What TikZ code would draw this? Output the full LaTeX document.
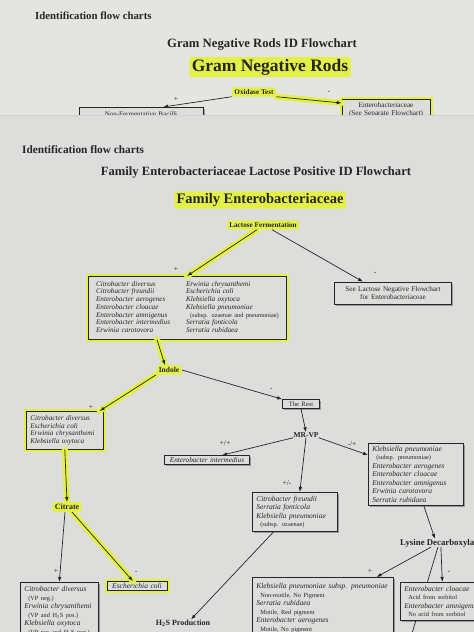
\documentclass[tikz,border=0pt]{standalone}
\usepackage{fontspec}
\setmainfont{Liberation Serif}
\usetikzlibrary{arrows.meta,shadows}

\definecolor{paperA}{RGB}{228,228,225}
\definecolor{paperB}{RGB}{221,221,219}
\definecolor{hlyellow}{RGB}{226,240,72}
\definecolor{ink}{RGB}{38,38,38}

\newcommand\fsz[2]{\fontsize{#1}{#2}\selectfont}
\newcommand\subnote[1]{{\upshape\fsz{6.3}{7.7}\hspace*{4pt}#1}}

\tikzset{
  txt/.style={inner sep=0pt, text=ink},
  head/.style={txt, font=\bfseries\fsz{#1}{#1}},
  hltxt/.style={fill=hlyellow, inner xsep=2.5pt, inner ysep=2pt, rounded corners=2pt},
  box/.style={draw=ink, fill=paperB, line width=0.6pt, text=ink, inner xsep=4pt, inner ysep=0pt,
    align=left, drop shadow={shadow xshift=1.5pt, shadow yshift=-1.5pt, fill=black, opacity=0.3}},
  hlbox/.style={box, preaction={draw=hlyellow, line width=5pt, rounded corners=2pt}},
  lstA/.style={font=\itshape\fsz{7.2}{7.7}},
  lstB/.style={font=\itshape\fsz{7.5}{8.5}},
  link/.style={draw=ink, line width=0.7pt, -{Latex[length=5pt,width=3.6pt]}},
  hllink/.style={link, preaction={draw=hlyellow, line width=6pt, arrows=-, line cap=round}},
  sign/.style={txt, font=\fsz{7.5}{7.5}},
}

\begin{document}
\begin{tikzpicture}[x=1pt, y=-1pt]
  \useasboundingbox (0,0) rectangle (474,632);
  \clip (0,0) rectangle (474,632);

  % first sheet (Gram negative rods)
  \fill[paperA] (0,0) rectangle (474,115);
  \node[head=10.8, anchor=west] (idA) at (35,16) {Identification flow charts};
  \node[head=12.7] (titleA) at (262,44) {Gram Negative Rods ID Flowchart};
  \node[head=17.5, hltxt] (gnr) at (270,67) {Gram Negative Rods};
  \node[head=7.2, hltxt] (oxidase) at (254,92) {Oxidase Test};
  \node[box, anchor=north, align=center, text width=116, minimum height=14,
        font=\fsz{7}{8}] (nonferm) at (141,107) {Non-Fermentative Bacilli};
  \node[hlbox, anchor=north, align=center, text width=80, minimum height=20,
        font=\fsz{7.2}{8}] (entero) at (386,99) {Enterobacteriaceae\\(See Separate Flowchart)};

  \draw[link] (oxidase.south west) -- ([xshift=22pt]nonferm.north);
  \draw[hllink] (oxidase.south east) -- ([yshift=-4pt]entero.north west);

  \foreach \x/\y/\s in {176/99/+, 329/92/-}
    \node[sign] at (\x,\y) {\s};

  % second sheet (Enterobacteriaceae, lactose positive)
  \fill[paperB] (0,115) rectangle (474,632);
  \draw[black!18, line width=0.8pt] (0,115) -- (474,115);

  \node[head=11.3, anchor=west] (idB) at (22,150) {Identification flow charts};
  \node[head=12.6] (titleB) at (256,172) {Family Enterobacteriaceae Lactose Positive ID Flowchart};
  \node[head=14.5, hltxt] (family) at (260,200) {Family Enterobacteriaceae};
  \node[head=7.2, hltxt] (lactose) at (263,225) {Lactose Fermentation};

  \node[hlbox, lstA, anchor=north, inner xsep=8pt, text width=182, minimum height=63] (lacpos) at (187,276) {%
    \begin{tabular}{@{}p{90pt}@{}l@{}}
      Citrobacter diversus & Erwinia chrysanthemi\\
      Citrobacter freundii & Escherichia coli\\
      Enterobacter aerogenes & Klebsiella oxytoca\\
      Enterobacter cloacae & Klebsiella pneumoniae\\
      Enterobacter amnigenus & \subnote{(subsp. ozaenae and pneumoniae)}\\
      Enterobacter intermedius & Serratia fonticola\\
      Erwinia carotovora & Serratia rubidaea
    \end{tabular}};
  \node[box, align=center, text width=109, minimum height=22, font=\fsz{7.2}{8.5}] (lacneg) at (393,293)
    {See Lactose Negative Flowchart\\for Enterobacteriaceae};

  \node[head=7.5, hltxt] (indole) at (169,370) {Indole};
  \node[hlbox, lstA, anchor=north west, text width=69, minimum height=38] (indpos) at (26,411)
    {Citrobacter diversus\\Escherichia coli\\Erwinia chrysanthemi\\Klebsiella oxytoca};
  \node[box, align=center, text width=29, minimum height=9, font=\fsz{6.6}{7}] (rest) at (301,404) {The Rest};
  \node[head=7.5] (mrvp) at (306,435) {MR-VP};

  \node[head=8, hltxt] (citrate) at (67,507) {Citrate};
  \node[box, lstB, anchor=north west, text width=70, minimum height=58] (cplus) at (20,582)
    {Citrobacter diversus\\\subnote{(VP neg.)}\\Erwinia chrysanthemi\\\subnote{(VP and H\textsubscript{2}S pos.)}\\
     Klebsiella oxytoca\\\subnote{(VP pos and H\textsubscript{2}S neg.)}};
  \node[hlbox, lstB, align=center, text width=52, minimum height=9] (ecoli) at (137,586) {Escherichia coli};

  \node[box, lstA, align=center, text width=77, minimum height=9] (entint) at (207,460) {Enterobacter intermedius};
  \node[box, lstB, anchor=north west, text width=77, minimum height=39] (pm) at (252,492)
    {Citrobacter freundii\\Serratia fonticola\\Klebsiella pneumoniae\\\subnote{(subsp. ozaenae)}};
  \node[box, lstB, anchor=north west, text width=87, minimum height=62] (mp) at (368,443)
    {Klebsiella pneumoniae\\\subnote{(subsp. pneumoniae)}\\Enterobacter aerogenes\\Enterobacter cloacae\\
     Enterobacter amnigenus\\Erwinia carotovora\\Serratia rubidaea};

  \node[head=8.8, anchor=west] (lysine) at (400,543) {Lysine Decarboxylase};
  \coordinate (lysoff) at (407,650);
  \draw[ink, line width=0.7pt] ([xshift=-3pt]lysine.south) -- (lysoff);

  \node[box, lstB, anchor=north west, text width=133, minimum height=62] (lyspos) at (252,577)
    {Klebsiella pneumoniae subsp. pneumoniae\\\subnote{Non-motile, No Pigment}\\Serratia rubidaea\\
     \subnote{Motile, Red pigment}\\Enterobacter aerogenes\\\subnote{Motile, No pigment}};
  \node[box, lstB, anchor=north west, text width=76, minimum height=38] (lysneg) at (400,582)
    {Enterobacter cloacae\\\subnote{Acid from sorbitol}\\Enterobacter amnigenus\\\subnote{No acid from sorbitol}};
  \node[head=8] (h2s) at (183,623) {H\textsubscript{2}S Production};

  % connectors
  \draw[hllink] ([xshift=-6pt]lactose.south) -- (lacpos.north);
  \draw[link] ([xshift=9pt]lactose.south) -- ([xshift=-30pt]lacneg.north);
  \draw[hllink] ([xshift=-30pt]lacpos.south) -- ([xshift=-4pt]indole.north);
  \draw[hllink] (indole.south west) -- ([xshift=-4pt]indpos.north east);
  \draw[link] (indole.east) -- (rest.north west);
  \draw[link] (rest.south) -- (mrvp.north);
  \draw[hllink] (indpos.south) -- (citrate.north);
  \draw[link] ([xshift=-2pt]citrate.south) -- (cplus.north);
  \draw[hllink] ([xshift=5pt]citrate.south) -- ([xshift=-4pt]ecoli.north);
  \draw[link] (mrvp.south west) -- ([xshift=15pt]entint.north);
  \draw[link] (mrvp.south) -- ([xshift=5pt]pm.north);
  \draw[link] (mrvp.south east) -- ([yshift=-12pt]mp.north west);
  \draw[link] ([xshift=8pt]mp.south) -- ([xshift=-6pt]lysine.north);
  \draw[link] ([xshift=-10pt]lysine.south) -- ([xshift=-17pt]lyspos.north east);
  \draw[link] (lysine.south) -- (lysneg.north);
  \draw[link] ([xshift=-21pt]pm.south) -- ([xshift=8pt]h2s.north);

  \foreach \x/\y/\s in {176/269/+, 375/273/-, 91/407/+, 271/389/-, 225/443/{+/+}, 287/483/{+/-},
                        352/444/{-/+}, 56/571/+, 136/572/-, 370/571/+, 449/572/-}
    \node[sign] at (\x,\y) {\s};
\end{tikzpicture}
\end{document}
